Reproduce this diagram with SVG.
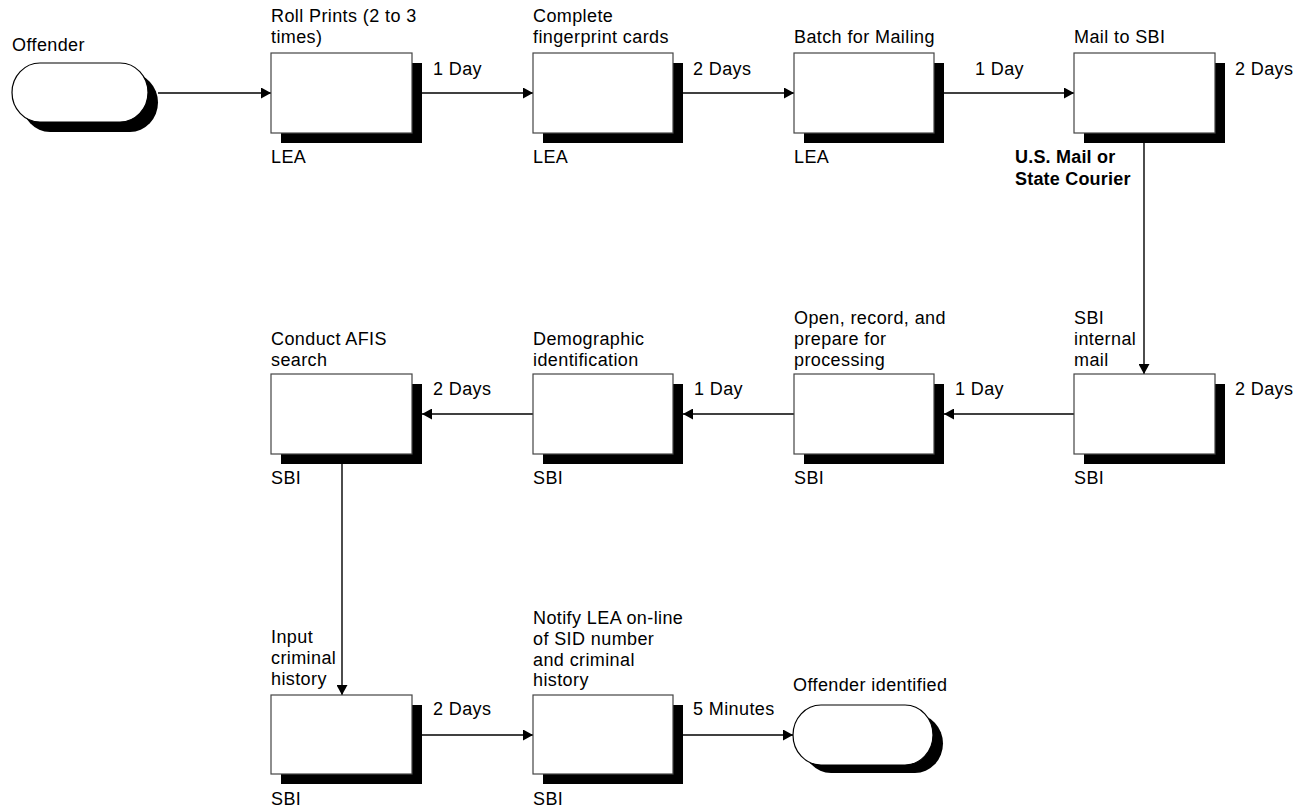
<svg xmlns="http://www.w3.org/2000/svg" width="1300" height="809" viewBox="0 0 1300 809">
  <style>
    text { font-family: "Liberation Sans", Arial, sans-serif; font-size: 18px; letter-spacing: 0.4px; fill: #000; }
    .bold { font-weight: bold; letter-spacing: 0.2px; }
    .box { fill: #fff; stroke: #444; stroke-width: 1.2; }
    .shadow { fill: #000; }
    .term { fill: #fff; stroke: #000; stroke-width: 1.2; }
    .conn { fill: none; stroke: #000; stroke-width: 1.4; marker-end: url(#arrow); }
  </style>
  <defs>
    <marker id="arrow" markerUnits="userSpaceOnUse" markerWidth="11" markerHeight="11" refX="10" refY="5.5" orient="auto">
      <path d="M0,0 L10,5.5 L0,11 z" fill="#000"/>
    </marker>
  </defs>
  <rect width="1300" height="809" fill="#fff"/>

  <!-- connectors and their time labels -->
  <g id="connectors">
    <line class="conn" x1="158" y1="93" x2="271" y2="93"/>
    <line class="conn" x1="422" y1="93" x2="533" y2="93"/>
    <line class="conn" x1="683" y1="93" x2="794" y2="93"/>
    <line class="conn" x1="944" y1="93" x2="1074" y2="93"/>
    <line class="conn" x1="1144" y1="133" x2="1144" y2="374"/>
    <line class="conn" x1="1074" y1="414" x2="944" y2="414"/>
    <line class="conn" x1="794" y1="414" x2="683" y2="414"/>
    <line class="conn" x1="533" y1="414" x2="422" y2="414"/>
    <line class="conn" x1="342" y1="454" x2="342" y2="695"/>
    <line class="conn" x1="422" y1="735" x2="533" y2="735"/>
    <line class="conn" x1="683" y1="735" x2="793" y2="735"/>
    <text x="433" y="75">1 Day</text>
    <text x="693" y="75">2 Days</text>
    <text x="975" y="75">1 Day</text>
    <text x="1235" y="75">2 Days</text>
    <text class="bold" x="1015" y="163">U.S. Mail or</text>
    <text class="bold" x="1015" y="185">State Courier</text>
    <text x="1235" y="395">2 Days</text>
    <text x="955" y="395">1 Day</text>
    <text x="694" y="395">1 Day</text>
    <text x="433" y="395">2 Days</text>
    <text x="433" y="715">2 Days</text>
    <text x="693" y="715">5 Minutes</text>
  </g>

  <!-- start terminal -->
  <g id="offender">
    <rect class="shadow" x="22" y="73" width="136" height="59" rx="28" ry="29.5"/>
    <rect class="term" x="12" y="63" width="136" height="59" rx="28" ry="29.5"/>
    <text x="12" y="51">Offender</text>
  </g>

  <g id="roll-prints">
    <rect class="shadow" x="281" y="63" width="141" height="80"/>
    <rect class="box" x="271" y="53" width="141" height="80"/>
    <text x="271" y="22">Roll Prints (2 to 3</text>
    <text x="271" y="43">times)</text>
    <text x="271" y="163">LEA</text>
  </g>

  <g id="complete-cards">
    <rect class="shadow" x="543" y="63" width="140" height="80"/>
    <rect class="box" x="533" y="53" width="140" height="80"/>
    <text x="533" y="22">Complete</text>
    <text x="533" y="43">fingerprint cards</text>
    <text x="533" y="163">LEA</text>
  </g>

  <g id="batch-mailing">
    <rect class="shadow" x="804" y="63" width="140" height="80"/>
    <rect class="box" x="794" y="53" width="140" height="80"/>
    <text x="794" y="43">Batch for Mailing</text>
    <text x="794" y="163">LEA</text>
  </g>

  <g id="mail-to-sbi">
    <rect class="shadow" x="1084" y="63" width="141" height="80"/>
    <rect class="box" x="1074" y="53" width="141" height="80"/>
    <text x="1074" y="43">Mail to SBI</text>
  </g>

  <g id="sbi-internal-mail">
    <rect class="shadow" x="1084" y="384" width="141" height="80"/>
    <rect class="box" x="1074" y="374" width="141" height="80"/>
    <text x="1074" y="324">SBI</text>
    <text x="1074" y="345">internal</text>
    <text x="1074" y="366">mail</text>
    <text x="1074" y="484">SBI</text>
  </g>

  <g id="open-record">
    <rect class="shadow" x="804" y="384" width="140" height="80"/>
    <rect class="box" x="794" y="374" width="140" height="80"/>
    <text x="794" y="324">Open, record, and</text>
    <text x="794" y="345">prepare for</text>
    <text x="794" y="366">processing</text>
    <text x="794" y="484">SBI</text>
  </g>

  <g id="demographic-id">
    <rect class="shadow" x="543" y="384" width="140" height="80"/>
    <rect class="box" x="533" y="374" width="140" height="80"/>
    <text x="533" y="345">Demographic</text>
    <text x="533" y="366">identification</text>
    <text x="533" y="484">SBI</text>
  </g>

  <g id="afis-search">
    <rect class="shadow" x="281" y="384" width="141" height="80"/>
    <rect class="box" x="271" y="374" width="141" height="80"/>
    <text x="271" y="345">Conduct AFIS</text>
    <text x="271" y="366">search</text>
    <text x="271" y="484">SBI</text>
  </g>

  <g id="input-history">
    <rect class="shadow" x="281" y="705" width="141" height="79"/>
    <rect class="box" x="271" y="695" width="141" height="79"/>
    <text x="271" y="643">Input</text>
    <text x="271" y="664">criminal</text>
    <text x="271" y="685">history</text>
    <text x="271" y="805">SBI</text>
  </g>

  <g id="notify-lea">
    <rect class="shadow" x="543" y="705" width="140" height="79"/>
    <rect class="box" x="533" y="695" width="140" height="79"/>
    <text x="533" y="624">Notify LEA on-line</text>
    <text x="533" y="645">of SID number</text>
    <text x="533" y="666">and criminal</text>
    <text x="533" y="686">history</text>
    <text x="533" y="805">SBI</text>
  </g>

  <!-- end terminal -->
  <g id="offender-identified">
    <rect class="shadow" x="803" y="714" width="140" height="59" rx="28" ry="29.5"/>
    <rect class="term" x="793" y="705" width="140" height="60" rx="28" ry="30"/>
    <text x="793" y="691">Offender identified</text>
  </g>
</svg>
